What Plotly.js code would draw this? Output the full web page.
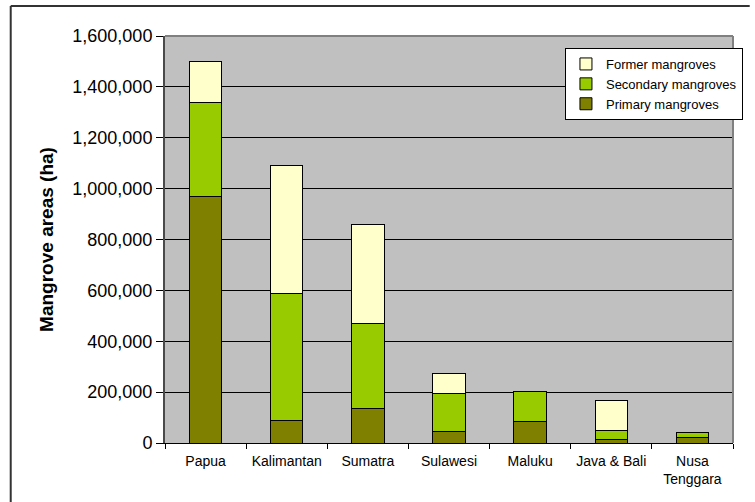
<!DOCTYPE html>
<html>
<head>
<meta charset="utf-8">
<script src="https://cdn.plot.ly/plotly-3.0.1.min.js"></script>
<style>
html,body{margin:0;padding:0;background:#fff;}
#chart{width:755px;height:502px;}
</style>
</head>
<body>
<div id="chart"></div>
<script>
const regions = ["Papua", "Kalimantan", "Sumatra", "Sulawesi", "Maluku", "Java & Bali", "Nusa<br>Tenggara"];
const primaryMangroves = [970000, 87000, 134000, 46000, 86000, 12000, 23000];
const secondaryMangroves = [370000, 500000, 335000, 147000, 115000, 37000, 17000];
const formerMangroves = [160000, 505000, 390000, 79000, 0, 120000, 0];
const yTickVals = [0, 200000, 400000, 600000, 800000, 1000000, 1200000, 1400000, 1600000];

const FONT = '"Liberation Sans", Arial, sans-serif';
const L = 165, R = 743, T = 36, B = 443, W = 755, H = 502;
const pw = R - L, ph = B - T;
const px = v => (v - L) / pw;
const py = v => (B - v) / ph;

const lineStyle = {color: '#000', width: 1};
const traces = [
  {name: 'Primary mangroves', x: regions, y: primaryMangroves, type: 'bar',
   marker: {color: '#808000', line: lineStyle}},
  {name: 'Secondary mangroves', x: regions, y: secondaryMangroves, type: 'bar',
   marker: {color: '#99CC00', line: lineStyle}},
  {name: 'Former mangroves', x: regions, y: formerMangroves, type: 'bar',
   marker: {color: '#FFFFCC', line: lineStyle}}
];

const layout = {
  width: W, height: H,
  margin: {l: L, r: W - R, t: T, b: H - B, pad: 0},
  paper_bgcolor: '#ffffff',
  plot_bgcolor: '#C0C0C0',
  barmode: 'stack',
  bargap: 0.6,
  showlegend: true,
  font: {family: FONT, color: '#000'},
  legend: {
    x: px(572), y: py(48), xanchor: 'left', yanchor: 'top',
    bgcolor: '#ffffff', bordercolor: '#000', borderwidth: 1,
    font: {family: FONT, size: 13, color: '#000'},
    traceorder: 'reversed', itemwidth: 30, tracegroupgap: 0
  },
  xaxis: {
    type: 'category',
    tickson: 'boundaries',
    ticks: 'outside', ticklen: 5, tickcolor: '#000', tickwidth: 1,
    ticklabelstandoff: 5,
    showline: true, linecolor: '#000', linewidth: 1,
    showgrid: false,
    tickfont: {family: FONT, size: 14, color: '#000'},
    fixedrange: true
  },
  yaxis: {
    range: [0, 1600000],
    tickvals: yTickVals,
    tickformat: ',d',
    ticks: 'outside', ticklen: 7, tickcolor: '#000', tickwidth: 1,
    showline: true, linecolor: '#4a4a4a', linewidth: 2,
    showgrid: true, gridcolor: '#000', gridwidth: 1,
    zeroline: false,
    tickfont: {family: FONT, size: 18, color: '#000'},
    title: {text: '<b>Mangrove areas (ha)</b>', font: {family: FONT, size: 19, color: '#000'}, standoff: 14},
    automargin: false,
    fixedrange: true
  },
  shapes: [
    {type: 'line', xref: 'paper', yref: 'paper', x0: 1, x1: 1, y0: 0, y1: 1,
     line: {color: '#808080', width: 2}, layer: 'above'},
    {type: 'line', xref: 'paper', yref: 'paper', x0: 0, x1: 1, y0: 1, y1: 1,
     line: {color: '#808080', width: 2}, layer: 'above'},
    {type: 'line', xref: 'paper', yref: 'paper', x0: px(8), x1: px(760), y0: py(6), y1: py(6),
     line: {color: '#333333', width: 2}},
    {type: 'line', xref: 'paper', yref: 'paper', x0: px(8), x1: px(8), y0: py(6), y1: py(510),
     line: {color: '#333333', width: 2}}
  ]
};

Plotly.newPlot('chart', traces, layout, {displayModeBar: false, staticPlot: true});
</script>
</body>
</html>
